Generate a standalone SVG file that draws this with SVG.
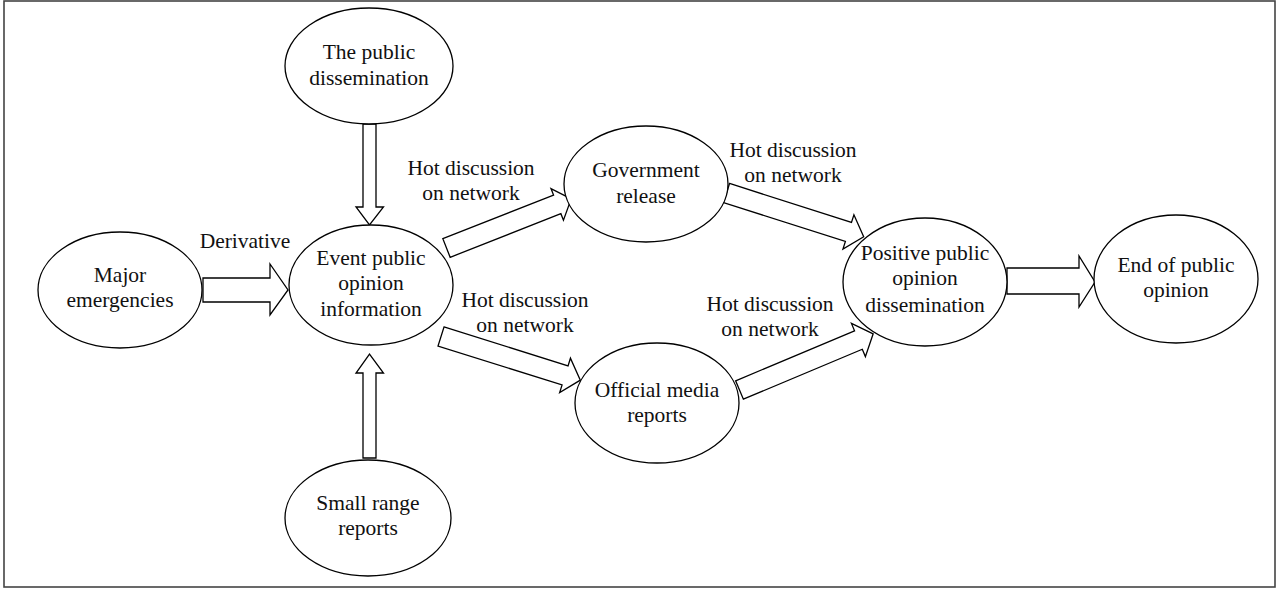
<svg xmlns="http://www.w3.org/2000/svg" width="1279" height="590" viewBox="0 0 1279 590">
<style>
.node ellipse{fill:#fff;stroke:#000;stroke-width:1.3}
.arr{fill:#fff;stroke:#000;stroke-width:1.3;stroke-linejoin:miter}
text{font-family:"Liberation Serif","Times New Roman",serif;font-size:21.5px;fill:#111;text-anchor:middle}
</style>
<rect x="4" y="1" width="1271" height="586" fill="#fff" stroke="#444" stroke-width="1.6"/>
<g id="connectors">
<polygon class="arr" points="363,124 376,124 376,207 383.5,207 369.5,225 356,207 363,207"/>
<polygon class="arr" points="363,458 376,458 376,373 383.5,373 369.5,354 356,373 363,373"/>
<polygon class="arr" points="203,278 270,278 270,264 288,290 270,315 270,302 203,302"/>
<polygon class="arr" points="1007,268 1079,268 1079,256 1095,282 1079,307 1079,294 1007,294"/>
<polygon class="arr" transform="translate(446.5,248) rotate(-21.5)" points="0,-10 119,-10 119,-17 134,0 119,17 119,10 0,10"/>
<polygon class="arr" transform="translate(441,336.5) rotate(17.4)" points="0,-10 130,-10 130,-18 146,0 130,18 130,10 0,10"/>
<polygon class="arr" transform="translate(726.5,193) rotate(17.7)" points="0,-10 128,-10 128,-18 144,0 128,18 128,10 0,10"/>
<polygon class="arr" transform="translate(739.5,390) rotate(-22.8)" points="0,-10 129,-10 129,-18 145,0 129,18 129,10 0,10"/>
<text x="245" y="248">Derivative</text>
<text x="471" y="175">Hot discussion</text>
<text x="471" y="200">on network</text>
<text x="525" y="307">Hot discussion</text>
<text x="525" y="332">on network</text>
<text x="793" y="157">Hot discussion</text>
<text x="793" y="182">on network</text>
<text x="770" y="311">Hot discussion</text>
<text x="770" y="336">on network</text>
</g>
<g id="public" class="node"><ellipse cx="369" cy="66" rx="84" ry="58"/><text x="369" y="59">The public</text><text x="369" y="85">dissemination</text></g>
<g id="major" class="node"><ellipse cx="120" cy="290" rx="82" ry="58"/><text x="120" y="282">Major</text><text x="120" y="307">emergencies</text></g>
<g id="event" class="node"><ellipse cx="371" cy="285" rx="82" ry="60"/><text x="371" y="265">Event public</text><text x="371" y="290">opinion</text><text x="371" y="316">information</text></g>
<g id="small" class="node"><ellipse cx="368" cy="518" rx="83" ry="58"/><text x="368" y="510">Small range</text><text x="368" y="535">reports</text></g>
<g id="gov" class="node"><ellipse cx="646" cy="184" rx="82" ry="58"/><text x="646" y="177">Government</text><text x="646" y="203">release</text></g>
<g id="official" class="node"><ellipse cx="657" cy="403" rx="82" ry="60"/><text x="657" y="397">Official media</text><text x="657" y="422">reports</text></g>
<g id="positive" class="node"><ellipse cx="925" cy="282" rx="82" ry="64"/><text x="925" y="260">Positive public</text><text x="925" y="285">opinion</text><text x="925" y="312">dissemination</text></g>
<g id="end" class="node"><ellipse cx="1176" cy="279" rx="82" ry="64"/><text x="1176" y="272">End of public</text><text x="1176" y="297">opinion</text></g>
</svg>
